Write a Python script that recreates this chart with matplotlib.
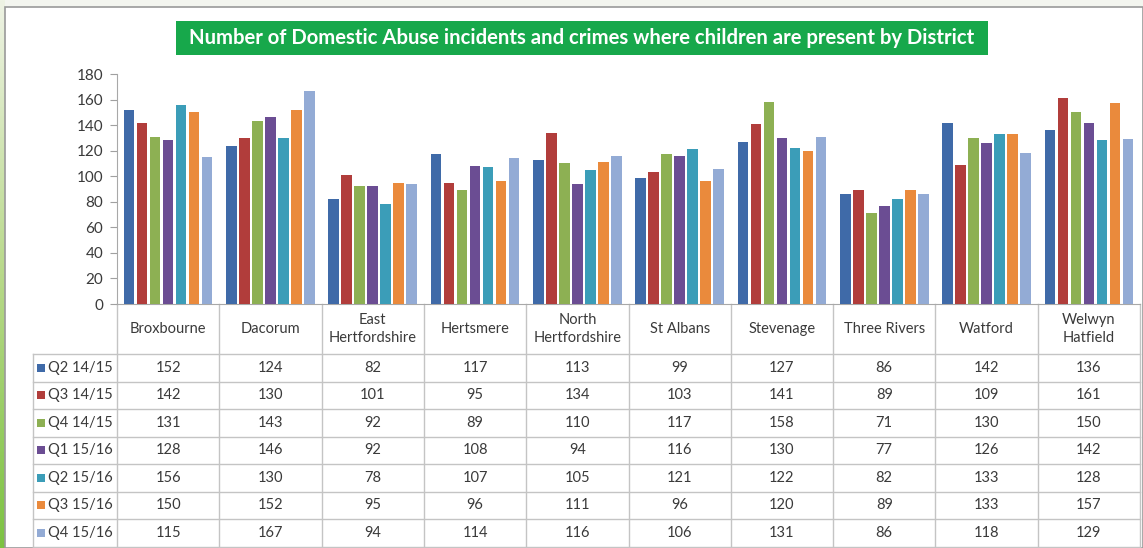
import matplotlib
matplotlib.use("Agg")
from matplotlib import pyplot as plt
from matplotlib.patches import Rectangle
from matplotlib.colors import LinearSegmentedColormap
import numpy as np

plt.rcParams['font.family'] = ['Lato', 'DejaVu Sans']

# ---- data ----
districts = ["Broxbourne", "Dacorum", "East\nHertfordshire", "Hertsmere",
             "North\nHertfordshire", "St Albans", "Stevenage", "Three Rivers",
             "Watford", "Welwyn\nHatfield"]
series_names = ["Q2 14/15", "Q3 14/15", "Q4 14/15", "Q1 15/16",
                "Q2 15/16", "Q3 15/16", "Q4 15/16"]
q2_1415 = [152, 124, 82, 117, 113, 99, 127, 86, 142, 136]
q3_1415 = [142, 130, 101, 95, 134, 103, 141, 89, 109, 161]
q4_1415 = [131, 143, 92, 89, 110, 117, 158, 71, 130, 150]
q1_1516 = [128, 146, 92, 108, 94, 116, 130, 77, 126, 142]
q2_1516 = [156, 130, 78, 107, 105, 121, 122, 82, 133, 128]
q3_1516 = [150, 152, 95, 96, 111, 96, 120, 89, 133, 157]
q4_1516 = [115, 167, 94, 114, 116, 106, 131, 86, 118, 129]
series = [q2_1415, q3_1415, q4_1415, q1_1516, q2_1516, q3_1516, q4_1516]
colors = ["#3f6aa8", "#b13d3b", "#8db053", "#6b4d93", "#3b9db8", "#ea8a3c", "#93abd5"]
yticks = list(range(0, 181, 20))

W, H = 1143, 548
fig = plt.figure(figsize=(W / 100, H / 100), dpi=100)
fig.patch.set_facecolor("#f3f5ef")

# overlay axes in pixel coordinates for frame, title box and table
ov = fig.add_axes([0, 0, 1, 1])
ov.set_xlim(0, W)
ov.set_ylim(H, 0)
ov.axis("off")

# left green strip (gradient)
grad = np.linspace(0, 1, 200).reshape(-1, 1)
gcmap = LinearSegmentedColormap.from_list("g", ["#eef3e4", "#b8d98a", "#7cc242"])
ov.imshow(grad, cmap=gcmap, extent=[0, 5, H, 0], aspect="auto", zorder=0)

# white panel
ov.add_patch(Rectangle((5, 7), W - 5, H - 7, facecolor="white",
                       edgecolor="#9a9a9a", linewidth=1.2, zorder=1))

# title box
ov.add_patch(Rectangle((176, 21), 812, 34, facecolor="#17a84b",
                       edgecolor="none", zorder=2))
ov.text(582, 38.5, "Number of Domestic Abuse incidents and crimes where children are present by District",
        color="white", fontsize=14.6, fontweight="bold", ha="center", va="center", zorder=3)

# ---- bar chart ----
x_left, x_right = 117, 1140
y_zero, y_top = 304, 74
ax = fig.add_axes([x_left / W, 1 - y_zero / H, (x_right - x_left) / W, (y_zero - y_top) / H])
ax.patch.set_alpha(0)
n_cat = len(districts)
n_ser = len(series)
pitch = 0.127
bw = 0.104
xc = np.arange(n_cat) + 0.5
for i, (vals, c) in enumerate(zip(series, colors)):
    ax.bar(xc + (i - (n_ser - 1) / 2) * pitch, vals, width=bw, color=c, zorder=3)
ax.set_xlim(0, n_cat)
ax.set_ylim(0, 180)
ax.set_yticks(yticks)
ax.set_yticklabels([str(t) for t in yticks], fontsize=11, color="#3a3a3a")
ax.tick_params(axis="y", length=5, color="#a0a0a0", pad=5)
ax.set_xticks([])
for s in ["top", "right"]:
    ax.spines[s].set_visible(False)
ax.spines["left"].set_color("#a8a8a8")
ax.spines["bottom"].set_color("#a8a8a8")

# ---- data table ----
line_c = "#c4c4c4"
txt_c = "#3a3a3a"
col_w = (x_right - x_left) / n_cat
leg_left = 33
row_top = 354
row_h = 27.5
n_rows = len(series)
table_bottom = row_top + n_rows * row_h

for k in range(n_cat + 1):
    xx = x_left + k * col_w
    ov.plot([xx, xx], [y_zero, table_bottom], color=line_c, lw=1, zorder=2)
ov.plot([leg_left, leg_left], [row_top, table_bottom], color=line_c, lw=1, zorder=2)
for r in range(n_rows + 1):
    yy = row_top + r * row_h
    ov.plot([leg_left, x_right], [yy, yy], color=line_c, lw=1, zorder=2)

for k, name in enumerate(districts):
    ov.text(x_left + (k + 0.5) * col_w, 329, name, ha="center", va="center",
            fontsize=10.5, color=txt_c, linespacing=1.3, zorder=3)

for r, (sname, vals, c) in enumerate(zip(series_names, series, colors)):
    yc = row_top + (r + 0.5) * row_h
    ov.add_patch(Rectangle((37, yc - 4), 8, 8, facecolor=c, edgecolor="none", zorder=3))
    ov.text(48, yc, sname, ha="left", va="center", fontsize=10.5, color=txt_c, zorder=3)
    for k, v in enumerate(vals):
        ov.text(x_left + (k + 0.5) * col_w, yc, str(v), ha="center", va="center",
                fontsize=10.5, color=txt_c, zorder=3)

fig.savefig("out.png", dpi=100, facecolor=fig.get_facecolor())
